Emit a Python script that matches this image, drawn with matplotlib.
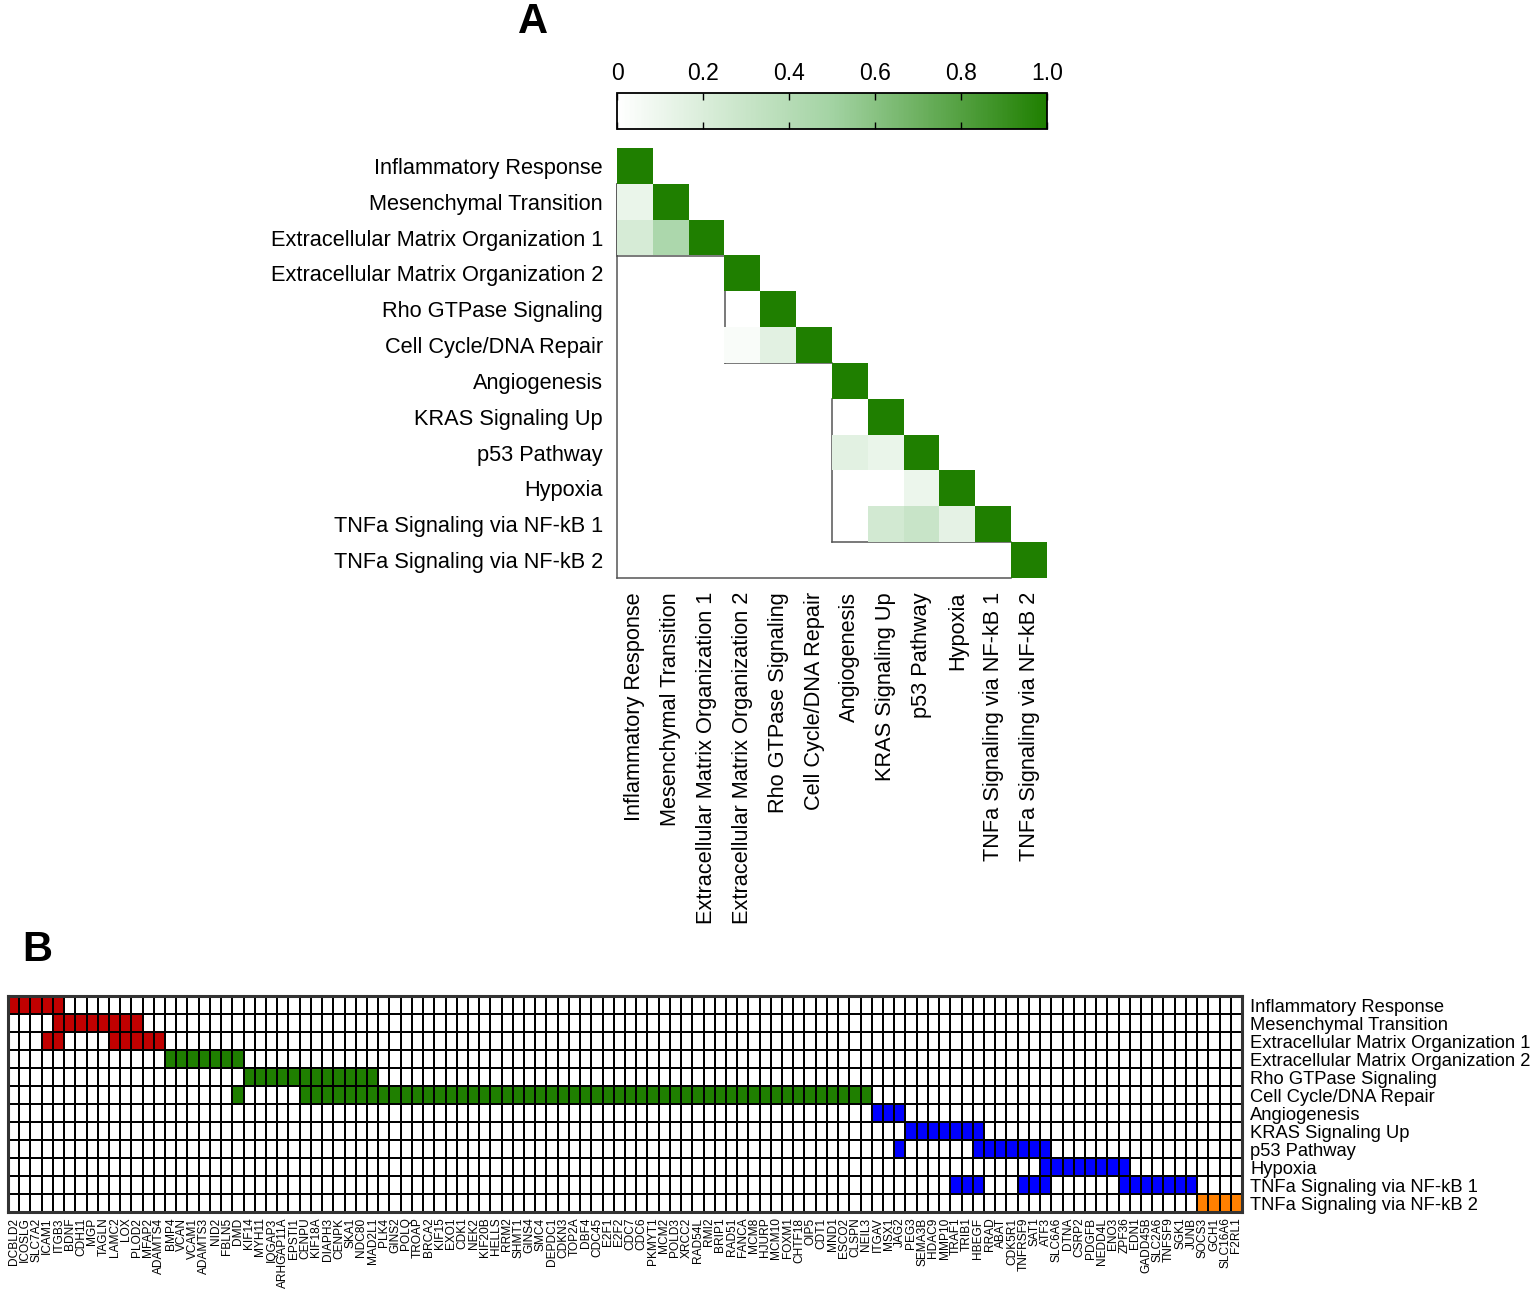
import numpy as np
import matplotlib
matplotlib.use("Agg")
import matplotlib.pyplot as plt
from matplotlib.colors import LinearSegmentedColormap, ListedColormap

plt.rcParams['font.family'] = ['Liberation Sans', 'DejaVu Sans']

# ---------------- data ----------------
pathways = ["Inflammatory Response", "Mesenchymal Transition",
            "Extracellular Matrix Organization 1", "Extracellular Matrix Organization 2",
            "Rho GTPase Signaling", "Cell Cycle/DNA Repair", "Angiogenesis",
            "KRAS Signaling Up", "p53 Pathway", "Hypoxia",
            "TNFa Signaling via NF-kB 1", "TNFa Signaling via NF-kB 2"]

# block sizes (clusters) along the diagonal
blocks = [3, 3, 5, 1]

# lower-triangle similarity values (row i has i+1 entries)
similarity = [
    [1.0],
    [0.11, 1.0],
    [0.22, 0.45, 1.0],
    [0, 0, 0, 1.0],
    [0, 0, 0, 0.0, 1.0],
    [0, 0, 0, 0.03, 0.16, 1.0],
    [0, 0, 0, 0, 0, 0, 1.0],
    [0, 0, 0, 0, 0, 0, 0.0, 1.0],
    [0, 0, 0, 0, 0, 0, 0.16, 0.11, 1.0],
    [0, 0, 0, 0, 0, 0, 0.0, 0.0, 0.10, 1.0],
    [0, 0, 0, 0, 0, 0, 0.0, 0.24, 0.30, 0.14, 1.0],
    [0, 0, 0, 0, 0, 0, 0, 0, 0, 0, 0, 1.0],
]

genes = ["DCBLD2", "ICOSLG", "SLC7A2", "ICAM1", "ITGB3", "BDNF", "CDH11", "MGP", "TAGLN",
         "LAMC2", "LOX", "PLOD2", "MFAP2", "ADAMTS4", "BMP4", "VCAN", "VCAM1", "ADAMTS3",
         "NID2", "FBLN5", "DMD", "KIF14", "MYH11", "IQGAP3", "ARHGAP11A", "EPSTI1", "CENPU",
         "KIF18A", "DIAPH3", "CENPK", "SKA1", "NDC80", "MAD2L1", "PLK4", "GINS2", "POLQ",
         "TROAP", "BRCA2", "KIF15", "EXO1", "CDK1", "NEK2", "KIF20B", "HELLS", "RRM2",
         "SHMT1", "GINS4", "SMC4", "DEPDC1", "CDKN3", "TOP2A", "DBF4", "CDC45", "E2F1",
         "E2F2", "CDC7", "CDC6", "PKMYT1", "MCM2", "POLD3", "XRCC2", "RAD54L", "RMI2",
         "BRIP1", "RAD51", "FANCA", "MCM8", "HJURP", "MCM10", "FOXM1", "CHTF18", "OIP5",
         "CDT1", "MND1", "ESCO2", "CLSPN", "NEIL3", "ITGAV", "MSX1", "JAG2", "PEG3",
         "SEMA3B", "HDAC9", "MMP10", "TRAF1", "TRIB1", "HBEGF", "RRAD", "ABAT", "CDK5R1",
         "TNFRSF9", "SAT1", "ATF3", "SLC6A6", "DTNA", "CSRP2", "PDGFB", "NEDD4L", "ENO3",
         "ZPF36", "EDN1", "GADD45B", "SLC2A6", "TNFSF9", "SGK1", "JUNB", "SOCS3", "GCH1",
         "SLC16A6", "F2RL1"]

inflammatory = ["DCBLD2", "ICOSLG", "SLC7A2", "ICAM1", "ITGB3"]
mesenchymal = ["ITGB3", "BDNF", "CDH11", "MGP", "TAGLN", "LAMC2", "LOX", "PLOD2"]
ecm1 = ["ICAM1", "ITGB3", "LAMC2", "LOX", "PLOD2", "MFAP2", "ADAMTS4"]
ecm2 = ["BMP4", "VCAN", "VCAM1", "ADAMTS3", "NID2", "FBLN5", "DMD"]
rho = ["KIF14", "MYH11", "IQGAP3", "ARHGAP11A", "EPSTI1", "CENPU", "KIF18A", "DIAPH3",
       "CENPK", "SKA1", "NDC80", "MAD2L1"]
cell_cycle = ["DMD", "CENPU", "KIF18A", "DIAPH3", "CENPK", "SKA1", "NDC80", "MAD2L1", "PLK4",
              "GINS2", "POLQ", "TROAP", "BRCA2", "KIF15", "EXO1", "CDK1", "NEK2", "KIF20B",
              "HELLS", "RRM2", "SHMT1", "GINS4", "SMC4", "DEPDC1", "CDKN3", "TOP2A", "DBF4",
              "CDC45", "E2F1", "E2F2", "CDC7", "CDC6", "PKMYT1", "MCM2", "POLD3", "XRCC2",
              "RAD54L", "RMI2", "BRIP1", "RAD51", "FANCA", "MCM8", "HJURP", "MCM10", "FOXM1",
              "CHTF18", "OIP5", "CDT1", "MND1", "ESCO2", "CLSPN", "NEIL3"]
angiogenesis = ["ITGAV", "MSX1", "JAG2"]
kras = ["PEG3", "SEMA3B", "HDAC9", "MMP10", "TRAF1", "TRIB1", "HBEGF"]
p53 = ["JAG2", "HBEGF", "RRAD", "ABAT", "CDK5R1", "TNFRSF9", "SAT1", "ATF3"]
hypoxia = ["ATF3", "SLC6A6", "DTNA", "CSRP2", "PDGFB", "NEDD4L", "ENO3", "ZPF36"]
tnfa1 = ["TRAF1", "TRIB1", "HBEGF", "TNFRSF9", "SAT1", "ATF3", "ZPF36", "EDN1", "GADD45B",
         "SLC2A6", "TNFSF9", "SGK1", "JUNB"]
tnfa2 = ["SOCS3", "GCH1", "SLC16A6", "F2RL1"]
members = [inflammatory, mesenchymal, ecm1, ecm2, rho, cell_cycle, angiogenesis, kras,
           p53, hypoxia, tnfa1, tnfa2]

block_colors = ["#c00000", "#1f7f00", "#0000ff", "#ff8000"]
cbar_ticks = [0, 0.2, 0.4, 0.6, 0.8, 1.0]
cbar_ticklabels = ["0", "0.2", "0.4", "0.6", "0.8", "1.0"]

# ---------------- figure ----------------
W, H = 1539, 1295
fig = plt.figure(figsize=(W / 100, H / 100), dpi=100)

def rect(x0, y0, x1, y1):
    return [x0 / W, 1 - y1 / H, (x1 - x0) / W, (y1 - y0) / H]

n = len(pathways)
M = np.full((n, n), np.nan)
for i, row in enumerate(similarity):
    for j, v in enumerate(row):
        M[i, j] = v

cmap = LinearSegmentedColormap.from_list("wg", ["#ffffff", "#a3d3a3", "#1f7f00"])

axA = fig.add_axes(rect(617, 148, 1047, 578))
im = axA.imshow(np.ma.masked_invalid(M), cmap=cmap, vmin=0, vmax=1,
                extent=(0, n, n, 0), interpolation="nearest", aspect="auto")
axA.set_xlim(0, n)
axA.set_ylim(n, 0)
for s in axA.spines.values():
    s.set_visible(False)
axA.set_xticks(np.arange(n) + 0.5)
axA.set_yticks(np.arange(n) + 0.5)
axA.set_xticklabels(pathways, rotation=90, fontsize=15.7)
axA.set_yticklabels(pathways, fontsize=15.7)
axA.tick_params(length=0, pad=10)

# outline lines of clusters
lc = "#555555"
lw = 1.1
axA.plot([0, 0], [1, n], color=lc, lw=lw, clip_on=False)
axA.plot([0, n - 1], [n, n], color=lc, lw=lw, clip_on=False)
start = 0
for b in blocks:
    end = start + b
    if b > 1:
        axA.plot([start, start], [start + 1, end], color=lc, lw=lw, clip_on=False)
        axA.plot([start, end], [end, end], color=lc, lw=lw, clip_on=False)
    start = end
# redraw colored cells on top of the lines
axA.imshow(np.ma.masked_where(~(M > 0), M), cmap=cmap, vmin=0, vmax=1,
           extent=(0, n, n, 0), interpolation="nearest", aspect="auto", zorder=3)

# colorbar
cax = fig.add_axes(rect(617, 93, 1047, 129))
cb = fig.colorbar(im, cax=cax, orientation="horizontal", ticks=cbar_ticks)
cb.set_ticklabels(cbar_ticklabels)
cax.xaxis.set_ticks_position("both")
cax.xaxis.set_label_position("top")
cax.tick_params(axis="x", direction="in", length=5, width=1, labeltop=True,
                labelbottom=False, labelsize=16.5, pad=6)
cb.outline.set_linewidth(1.3)

fig.text(533 / W, 1 - 22 / H, "A", fontsize=30, fontweight="bold", ha="center", va="center")
fig.text(37 / W, 1 - 950 / H, "B", fontsize=30, fontweight="bold", ha="center", va="center")

# ---------------- panel B ----------------
ng = len(genes)
G = np.zeros((n, ng))
row_block = []
for bi, b in enumerate(blocks):
    row_block += [bi + 1] * b
for i, mem in enumerate(members):
    for g in mem:
        G[i, genes.index(g)] = row_block[i]

cmapB = ListedColormap(["#ffffff"] + block_colors)
axB = fig.add_axes(rect(8, 996, 1242, 1212))
axB.pcolormesh(np.arange(ng + 1), np.arange(n + 1), G, cmap=cmapB, vmin=-0.5,
               vmax=len(block_colors) + 0.5, edgecolors="black", linewidth=1.3)
axB.set_xlim(0, ng)
axB.set_ylim(n, 0)
for s in axB.spines.values():
    s.set_linewidth(2.2)
    s.set_color("#333333")
axB.set_xticks(np.arange(ng) + 0.5)
axB.set_xticklabels(genes, rotation=90, fontsize=8.6)
axB.yaxis.tick_right()
axB.set_yticks(np.arange(n) + 0.5)
axB.set_yticklabels(pathways, fontsize=13.2)
axB.tick_params(length=0, pad=6)
axB.tick_params(axis="x", pad=4)

fig.savefig("out.png", dpi=100)
